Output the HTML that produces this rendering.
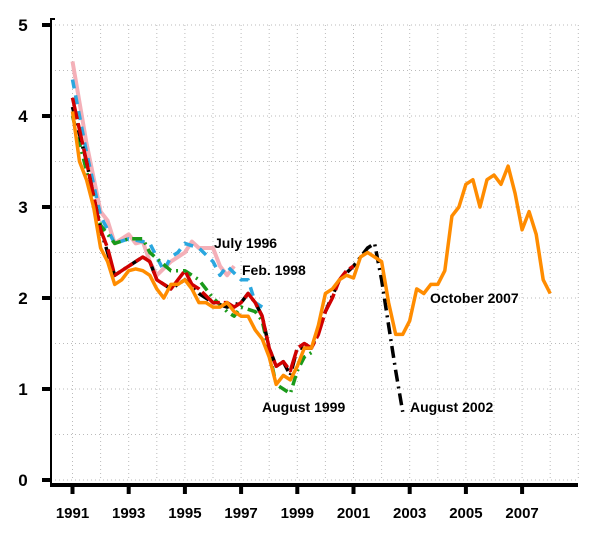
<!DOCTYPE html>
<html><head><meta charset="utf-8"><style>
body{margin:0;background:#fff;}
svg{display:block;font-family:"Liberation Sans",sans-serif;}
</style></head><body>
<svg id="chart" width="600" height="533"></svg>
<script>
const yTicks=[0,1,2,3,4,5];
const xTickYears=[1991,1993,1995,1997,1999,2001,2003,2005,2007];
const tOct2007=[1991,1991.25,1991.5,1991.75,1992,1992.25,1992.5,1992.75,1993,1993.25,1993.5,1993.75,1994,1994.25,1994.5,1994.75,1995,1995.25,1995.5,1995.75,1996,1996.25,1996.5,1996.75,1997,1997.25,1997.5,1997.75,1998,1998.25,1998.5,1998.75,1999,1999.25,1999.5,1999.75,2000,2000.25,2000.5,2000.75,2001,2001.25,2001.5,2001.75,2002,2002.25,2002.5,2002.75,2003,2003.25,2003.5,2003.75,2004,2004.25,2004.5,2004.75,2005,2005.25,2005.5,2005.75,2006,2006.25,2006.5,2006.75,2007,2007.25,2007.5,2007.75,2008];
const vOct2007=[4.05,3.5,3.3,3.0,2.55,2.4,2.15,2.2,2.3,2.32,2.3,2.25,2.1,2.0,2.15,2.15,2.2,2.1,1.95,1.95,1.9,1.9,1.95,1.85,1.8,1.8,1.65,1.55,1.35,1.05,1.15,1.1,1.25,1.45,1.45,1.7,2.05,2.1,2.2,2.25,2.22,2.45,2.5,2.45,2.4,1.95,1.6,1.6,1.75,2.1,2.05,2.15,2.15,2.3,2.9,3.0,3.25,3.3,3.0,3.3,3.35,3.25,3.45,3.15,2.75,2.95,2.7,2.2,2.05];
const tJul1996=[1991,1991.5,1992,1992.25,1992.5,1993,1993.25,1993.5,1993.75,1994,1994.5,1995,1995.25,1995.5,1996,1996.25,1996.5,1996.75];
const vJul1996=[4.6,3.7,2.95,2.85,2.6,2.7,2.6,2.62,2.4,2.25,2.4,2.5,2.62,2.55,2.55,2.35,2.25,2.35];
const tFeb1998=[1991,1991.5,1992,1992.5,1993,1993.5,1993.75,1994.25,1994.5,1994.75,1995,1995.5,1996,1996.25,1996.5,1997,1997.25,1997.5,1997.75];
const vFeb1998=[4.4,3.6,2.9,2.6,2.65,2.62,2.6,2.3,2.45,2.5,2.6,2.55,2.4,2.25,2.35,2.2,2.2,1.95,1.9];
const tAug1999=[1991,1991.5,1992,1992.5,1993,1993.5,1993.75,1994.5,1995,1995.5,1996,1996.5,1996.75,1997,1997.5,1997.75,1998,1998.25,1998.5,1998.75,1999,1999.25,1999.5];
const vAug1999=[4.0,3.4,2.8,2.6,2.65,2.65,2.5,2.3,2.3,2.2,2.0,1.85,1.8,1.9,1.85,1.75,1.4,1.05,1.0,0.95,1.2,1.35,1.4];
const tAug2002=[1991,1991.5,1992,1992.25,1992.5,1993,1993.5,1993.75,1994,1994.5,1995,1995.5,1996,1996.5,1997,1997.25,1997.5,1997.75,1998,1998.25,1998.5,1998.75,1999,1999.5,2000,2000.5,2001,2001.5,2001.75,2002,2002.25,2002.5,2002.75];
const vAug2002=[4.1,3.5,2.75,2.5,2.25,2.35,2.45,2.4,2.2,2.1,2.2,2.05,1.95,1.9,1.95,2.05,1.95,1.8,1.45,1.25,1.3,1.15,1.45,1.45,1.85,2.2,2.35,2.55,2.6,2.2,1.7,1.2,0.75];
const tRed=[1991,1991.5,1992,1992.25,1992.5,1993,1993.5,1993.75,1994,1994.5,1995,1995.25,1995.5,1996,1996.5,1996.75,1997,1997.25,1997.5,1997.75,1998,1998.25,1998.5,1998.75,1999,1999.25,1999.5,1999.75,2000,2000.25,2000.5,2000.75,2001];
const vRed=[4.2,3.5,2.75,2.55,2.25,2.35,2.45,2.4,2.2,2.1,2.3,2.15,2.1,1.95,1.95,1.9,1.95,2.05,1.95,1.8,1.45,1.25,1.3,1.2,1.45,1.5,1.45,1.6,1.85,2.0,2.2,2.3,2.35];

const NS="http://www.w3.org/2000/svg";
const svg=document.getElementById('chart');
const x=yr=>72.5+28.1*(yr-1991);
const y=v=>480-91*v;
function mk(tag,attrs,parent){const e=document.createElementNS(NS,tag);for(const k in attrs)e.setAttribute(k,attrs[k]);(parent||svg).appendChild(e);return e;}

for(let yr=1991;yr<=2009;yr++){
  const g=mk('line',{x1:x(yr),x2:x(yr),y1:y(5),y2:y(0),stroke:'#bbb','stroke-width':1,'stroke-dasharray':'1,3'});
  
  
}
for(let v=0;v<=5;v+=0.5){
  const g=mk('line',{x1:51,x2:578,y1:y(v),y2:y(v),stroke:'#bbb','stroke-width':1,'stroke-dasharray':'1,3'});
  
  
}
const ya=mk('path',{d:'M55,'+(y(5)-6)+'L51,'+(y(5)-6)+'L51,487',fill:'none',stroke:'#000','stroke-width':2});


const xa=mk('line',{x1:50,x2:578,y1:485,y2:485,stroke:'#000','stroke-width':4});


yTicks.forEach(v=>{
  const t=mk('line',{x1:42,x2:51,y1:y(v),y2:y(v),stroke:'#000','stroke-width':4});
  
  
  const l=mk('text',{x:23,y:y(v)+6,'font-size':17,'font-weight':'bold','text-anchor':'middle'});
  l.textContent=v;
  
  
});
xTickYears.forEach(yr=>{
  const t=mk('line',{x1:x(yr),x2:x(yr),y1:485,y2:494,stroke:'#000','stroke-width':4});
  
  
  const l=mk('text',{x:x(yr),y:518,'font-size':15,'font-weight':'bold','text-anchor':'middle'});
  l.textContent=yr;
  
  
});
function series(ts,vs,color,dash,name,w){
  const d=ts.map((t,i)=>(i?'L':'M')+x(t).toFixed(1)+','+y(vs[i]).toFixed(1)).join('');
  const p=mk('path',{d:d,fill:'none',stroke:color,'stroke-width':w||3.5,'stroke-linejoin':'round','stroke-dasharray':dash||'none'});
  
  
}
series(tJul1996,vJul1996,'#f4b0b8','','series-july-1996',4);
series(tFeb1998,vFeb1998,'#2aa7df','9,7','series-feb-1998');
series(tAug1999,vAug1999,'#1a9a1a','10,5,2,5','series-august-1999');
series(tAug2002,vAug2002,'#000','12,5,2,5','series-august-2002');
series(tRed,vRed,'#d00000','22,4','series-red');
series(tOct2007,vOct2007,'#ff8c00','','series-october-2007',3.5);

const labels=[['July 1996',214,248,'label-july-1996'],['Feb. 1998',242,275,'label-feb-1998'],['August 1999',262,412,'label-august-1999'],['August 2002',410,412,'label-august-2002'],['October 2007',430,303,'label-october-2007']];
labels.forEach(a=>{
  const l=mk('text',{x:a[1],y:a[2],'font-size':14,'font-weight':'bold'});
  l.textContent=a[0];
  
  
});
</script>
</body></html>
